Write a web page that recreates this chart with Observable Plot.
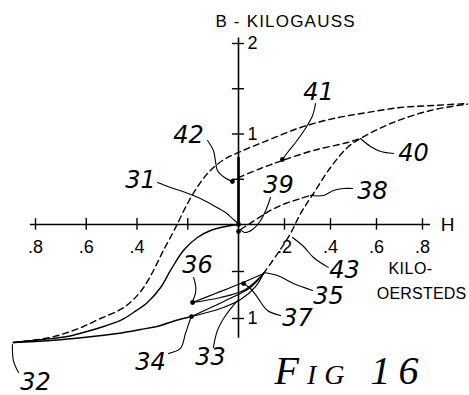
<!DOCTYPE html>
<html><head><meta charset="utf-8">
<script src="https://cdn.jsdelivr.net/npm/d3@7"></script>
<script src="https://cdn.jsdelivr.net/npm/@observablehq/plot@0.6"></script>
<style>html,body{margin:0;padding:0;background:#fff;}svg{display:block}</style>
</head><body><div id="chart"></div>
<script>
// H in kilo-oersteds, B in kilogauss
const xTicks = [-0.8, -0.6, -0.4, -0.2, 0.2, 0.4, 0.6, 0.8];
const xTickLabelValues = [-0.8, -0.6, -0.4, 0.2, 0.4, 0.6, 0.8];
const xTickLabels = [".8", ".6", ".4", ".2", ".4", ".6", ".8"];
const yTicks = [2, 1.5, 1, 0.5, -0.5, -1];
const yTickLabelValues = [2, 1, -1];
const yTickLabels = ["2", "1", "1"];

// solid curve 31-32
const curve31 = [[-0.887,-1.255],[-0.768,-1.223],[-0.674,-1.191],[-0.611,-1.149],[-0.544,-1.096],[-0.465,-1.021],[-0.414,-0.936],[-0.359,-0.830],[-0.307,-0.670],[-0.268,-0.489],[-0.217,-0.277],[-0.162,-0.138],[-0.110,-0.064],[-0.051,-0.021],[0,0]];
// solid lower curve 32-34
const curve32 = [[-0.887,-1.255],[-0.741,-1.234],[-0.611,-1.202],[-0.477,-1.160],[-0.386,-1.117],[-0.307,-1.074],[-0.248,-1.021],[-0.185,-0.979]];
// minor loop from 34 to 35
const loop34Upper = [[-0.185,-0.979],[-0.051,-0.809],[0.052,-0.670],[0.109,-0.521]];
const loop34Lower = [[-0.185,-0.979],[-0.071,-0.894],[0.009,-0.798],[0.074,-0.660],[0.109,-0.521]];
// minor loop from 36 to 35
const loop36Upper = [[-0.181,-0.830],[-0.091,-0.734],[0.009,-0.628],[0.109,-0.521]];
const loop36Lower = [[-0.181,-0.830],[-0.071,-0.777],[0.030,-0.691],[0.109,-0.521]];
// dashed major curve
const dashedMajor = [[-0.887,-1.255],[-0.820,-1.234],[-0.741,-1.202],[-0.674,-1.149],[-0.611,-1.085],[-0.544,-1.000],[-0.465,-0.904],[-0.418,-0.809],[-0.374,-0.670],[-0.335,-0.489],[-0.296,-0.277],[-0.260,-0.096],[-0.240,0.011],[-0.205,0.210],[-0.166,0.398],[-0.122,0.564],[-0.063,0.707],[0,0.796],[0.126,0.928],[0.270,1.072],[0.413,1.171],[0.561,1.238],[0.704,1.293],[0.848,1.315],[0.996,1.337]];
// dashed branch 35-43-40
const dashed35 = [[0.109,-0.521],[0.170,-0.309],[0.226,-0.096],[0.270,0.122],[0.326,0.343],[0.400,0.630],[0.474,0.851],[0.530,0.950],[0.661,1.116],[0.835,1.260],[0.996,1.330]];
// dashed branch 39-38
const dashed39 = [[0.009,-0.053],[0.043,0],[0.083,0.066],[0.139,0.155],[0.204,0.232],[0.270,0.287],[0.326,0.332]];
// dashed branch 42-41-40
const dashed42 = [[0,0.519],[0.096,0.619],[0.191,0.707],[0.326,0.818],[0.474,0.906],[0.530,0.950]];

// marked points
const dotH = [0, 0, -0.024, 0.191, -0.181, -0.185, 0.022];
const dotB = [0, -0.074, 0.475, 0.718, -0.830, -0.979, -0.628];

// reference numerals and their leader lines
const refText = ["31","42","41","40","39","38","43","35","37","36","34","33","32"];
const refH = [-0.386,-0.197,0.348,0.761,0.174,0.583,0.461,0.391,0.257,-0.162,-0.347,-0.110,-0.800];
const refB = [0.486,0.983,1.459,0.785,0.431,0.365,-0.489,-0.766,-1.000,-0.436,-1.468,-1.415,-1.681];
const leaders = {
  "31": [[-0.319,0.464],[-0.268,0.409],[-0.209,0.354],[-0.150,0.287],[-0.099,0.210],[-0.051,0.133],[-0.020,0.055],[0,0.011]],
  "42": [[-0.122,0.928],[-0.099,0.818],[-0.091,0.707],[-0.083,0.597],[-0.055,0.519],[-0.024,0.475]],
  "41": [[0.335,1.337],[0.322,1.205],[0.291,1.061],[0.248,0.906],[0.213,0.796],[0.191,0.718]],
  "40": [[0.674,0.785],[0.618,0.807],[0.574,0.862],[0.530,0.950]],
  "39": [[0.139,0.298],[0.122,0.177],[0.096,0.044],[0.061,-0.053],[0.026,-0.085],[0.009,-0.053]],
  "38": [[0.496,0.398],[0.457,0.398],[0.413,0.376],[0.370,0.320],[0.313,0.320]],
  "43": [[0.390,-0.456],[0.326,-0.351],[0.283,-0.234],[0.235,-0.138]],
  "35": [[0.322,-0.702],[0.239,-0.628],[0.170,-0.543],[0.109,-0.511]],
  "37": [[0.183,-0.968],[0.126,-0.915],[0.083,-0.777],[0.052,-0.681],[0.022,-0.628]],
  "36": [[-0.177,-0.564],[-0.169,-0.649],[-0.169,-0.723],[-0.181,-0.819]],
  "34": [[-0.276,-1.372],[-0.229,-1.319],[-0.209,-1.160],[-0.189,-1.000]],
  "33": [[-0.099,-1.309],[-0.083,-1.128],[-0.051,-0.968],[-0.004,-0.809]],
  "32": [[-0.891,-1.277],[-0.887,-1.447],[-0.867,-1.574]]
};

const yAxisTitle = "B - KILOGAUSS";
const xAxisTitle = "H";
const xUnit1 = "KILO-";
const xUnit2 = "OERSTEDS";
const figTitle = "Fig 16";

const P = d => d[0], Q = d => d[1];
const solid = (data, w = 1.4) => Plot.line(data, {x: P, y: Q, stroke: "#000", strokeWidth: w, curve: "catmull-rom"});
const dashed = data => Plot.line(data, {x: P, y: Q, stroke: "#000", strokeWidth: 1.4, strokeDasharray: "6,4", curve: "catmull-rom"});

const leaderMarks = Object.values(leaders).map(l => solid(l, 1.1));

const chart = Plot.plot({
  width: 469, height: 395,
  marginTop: 0, marginRight: 0, marginBottom: 0, marginLeft: 0,
  x: {type: "linear", domain: [-0.8, 0, 0.8], range: [35, 238, 422], axis: null},
  y: {type: "linear", domain: [-1, 0, 2], range: [318, 224, 43], axis: null},
  style: {background: "#fff", color: "#000"},
  marks: [
    // axes
    Plot.ruleY([0], {x1: -0.82, x2: 0.835, stroke: "#000", strokeWidth: 1.6}),
    Plot.ruleX([0], {y1: -1.21, y2: 2.06, stroke: "#000", strokeWidth: 1.6}),
    Plot.ruleX([0], {y1: 0, y2: 0.74, stroke: "#000", strokeWidth: 2.6}),
    Plot.ruleX(xTicks, {x: d => d, y1: -0.06, y2: 0.065, stroke: "#000", strokeWidth: 1.4}),
    Plot.ruleY(yTicks, {y: d => d, x1: -0.024, x2: 0.026, stroke: "#000", strokeWidth: 1.4}),
    Plot.text(xTickLabelValues, {x: d => d, y: -0.24, text: (d, i) => xTickLabels[i], fontSize: 18, fontFamily: "Liberation Sans", textAnchor: "middle", lineAnchor: "middle"}),
    Plot.text(yTickLabelValues, {x: 0.039, y: d => d, text: (d, i) => yTickLabels[i], fontSize: 18, fontFamily: "Liberation Sans", textAnchor: "start", lineAnchor: "middle"}),
    Plot.text([yAxisTitle], {x: -0.091, y: 2.243, text: d => d, fontSize: 17, fontFamily: "Liberation Sans", textAnchor: "start", lineAnchor: "middle"}),
    Plot.text([xAxisTitle], {x: 0.909, y: 0, text: d => d, fontSize: 19, fontFamily: "Liberation Sans", textAnchor: "middle", lineAnchor: "middle"}),
    Plot.text([xUnit1], {x: 0.748, y: -0.468, text: d => d, fontSize: 16, fontFamily: "Liberation Sans", textAnchor: "middle", lineAnchor: "middle"}),
    Plot.text([xUnit2], {x: 0.796, y: -0.734, text: d => d, fontSize: 16, fontFamily: "Liberation Sans", textAnchor: "middle", lineAnchor: "middle"}),
    // curves
    dashed(dashedMajor),
    dashed(dashed35),
    dashed(dashed39),
    dashed(dashed42),
    solid(curve31),
    solid(curve32),
    solid(loop34Upper, 1.2),
    solid(loop34Lower, 1.2),
    solid(loop36Upper, 1.2),
    solid(loop36Lower, 1.2),
    ...leaderMarks,
    Plot.dot(dotH, {x: d => d, y: (d, i) => dotB[i], r: 2.4, fill: "#000", stroke: null}),
    Plot.text(refText, {x: (d, i) => refH[i], y: (d, i) => refB[i], text: d => d, fontSize: 24, fontFamily: "DejaVu Sans", fontStyle: "italic", textAnchor: "middle", lineAnchor: "middle"}),
    Plot.text([figTitle], {x: 0.487, y: -1.56, text: d => d, fontSize: 40, fontFamily: "Liberation Serif", fontStyle: "italic", fontVariant: "small-caps", textAnchor: "middle", lineAnchor: "middle"})
  ]
});
// letter spacing for a few labels (Plot's text mark has no such option)
const spacing = {[yAxisTitle]: "1.2px", [figTitle]: "8px", [xUnit1]: "0.5px", [xUnit2]: "0.2px"};
d3.select(chart).selectAll("text").each(function() {
  const s = spacing[this.textContent];
  if (s) this.setAttribute("letter-spacing", s);
});
document.getElementById("chart").appendChild(chart);
</script>
</body></html>
